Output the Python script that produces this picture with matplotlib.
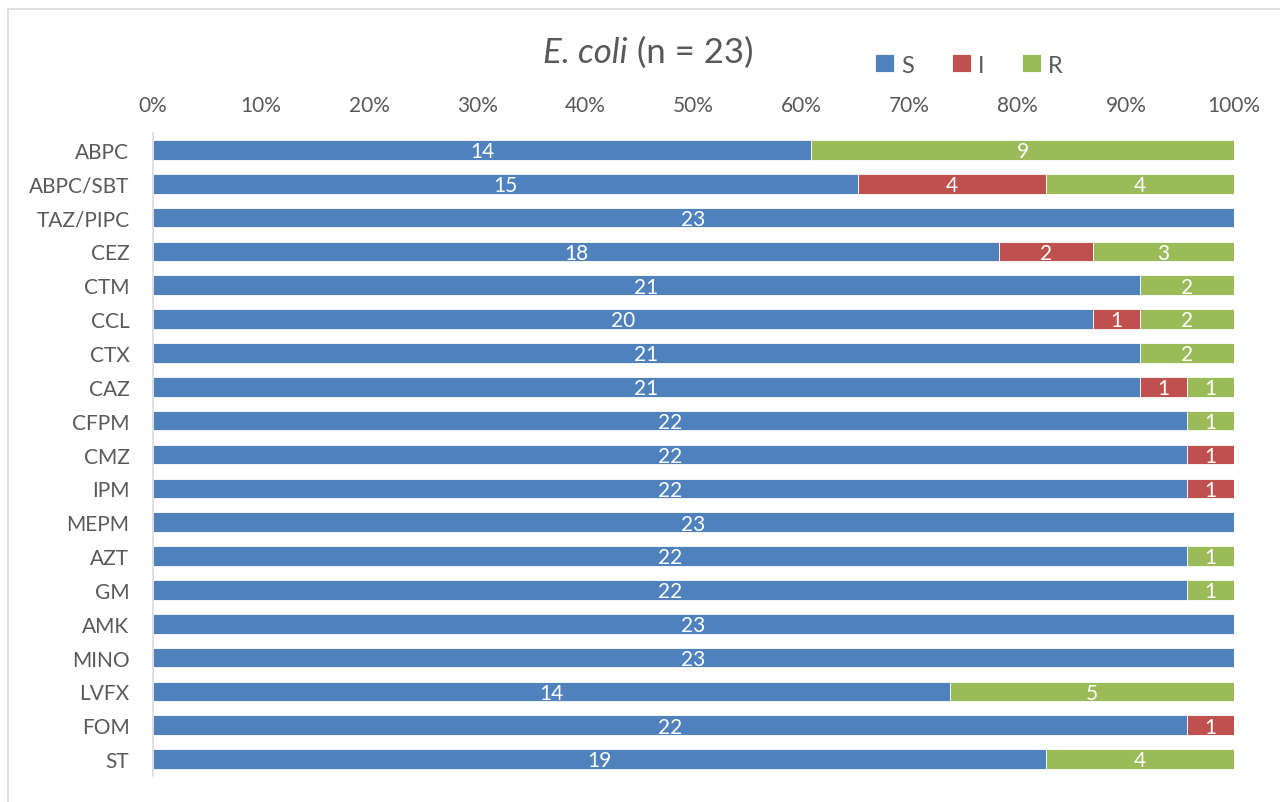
import matplotlib
matplotlib.use("Agg")
import matplotlib.pyplot as plt
import numpy as np
from matplotlib.patches import Rectangle
from matplotlib.ticker import PercentFormatter

categories = ["ABPC", "ABPC/SBT", "TAZ/PIPC", "CEZ", "CTM", "CCL", "CTX", "CAZ",
              "CFPM", "CMZ", "IPM", "MEPM", "AZT", "GM", "AMK", "MINO", "LVFX",
              "FOM", "ST"]
S_vals = [14, 15, 23, 18, 21, 20, 21, 21, 22, 22, 22, 23, 22, 22, 23, 23, 14, 22, 19]
I_vals = [0, 4, 0, 2, 0, 1, 0, 1, 0, 1, 1, 0, 0, 0, 0, 0, 0, 1, 0]
R_vals = [9, 4, 0, 3, 2, 2, 2, 1, 1, 0, 0, 0, 1, 1, 0, 0, 5, 0, 4]
series_names = ["S", "I", "R"]
colors = ["#4F81BD", "#C0504D", "#9BBB59"]

plt.rcParams['font.family'] = ['Lato', 'DejaVu Sans']
txt_color = "#595959"

W, H = 1280, 803
fig = plt.figure(figsize=(W / 100, H / 100), dpi=100)
ax = fig.add_axes([153 / W, 1 - 777 / H, (1234 - 153) / W, (777 - 134) / H])

counts = np.array([S_vals, I_vals, R_vals], dtype=float)
totals = counts.sum(axis=0)
pct = counts / totals * 100
y = np.arange(len(categories))
left = np.zeros(len(categories))
handles = []
for k in range(3):
    bars = ax.barh(y, pct[k], left=left, height=0.58, color=colors[k],
                   edgecolor="white", linewidth=0.6, label=series_names[k])
    handles.append(bars)
    for i in range(len(categories)):
        if counts[k, i] > 0:
            ax.text(left[i] + pct[k, i] / 2, y[i] + 0.04, f"{int(counts[k, i])}",
                    ha="center", va="center", color="white", fontsize=15)
    left = left + pct[k]

ax.set_xlim(0, 100)
ax.set_ylim(len(categories) - 0.5, -0.5)
ax.set_yticks(y)
ax.set_yticklabels(categories)
ax.set_xticks(np.arange(0, 101, 10))
ax.xaxis.set_major_formatter(PercentFormatter(decimals=0))
ax.xaxis.tick_top()
ax.tick_params(axis="x", length=0, pad=13, labelsize=15, labelcolor=txt_color)
ax.tick_params(axis="y", length=0, pad=17, labelsize=15, labelcolor=txt_color)
for s in ["top", "right", "bottom"]:
    ax.spines[s].set_visible(False)
ax.spines["left"].set_color("#D9D9D9")
ax.spines["left"].set_linewidth(1.2)

# figure border
fig.patches.append(Rectangle((8 / W, -0.05), 1.2, 1 - 10 / H + 0.05,
                             transform=fig.transFigure, fill=False,
                             edgecolor="#D9D9D9", linewidth=1.2))

# title
t1 = fig.text(543 / W, 1 - 63 / H, "E. coli", fontsize=25, style="italic",
              color=txt_color, ha="left", va="baseline")
fig.canvas.draw()
ax.annotate(" (n = 23)", xy=(1, 0), xycoords=t1, fontsize=25, color=txt_color,
            ha="left", va="bottom")

leg = fig.legend(handles=handles, labels=series_names, ncol=3, frameon=False,
                 loc="center left", bbox_to_anchor=(875 / W, 1 - 66 / H),
                 bbox_transform=fig.transFigure, fontsize=17, handlelength=0.8,
                 handleheight=0.8, handletextpad=0.3, columnspacing=1.6,
                 borderpad=0, borderaxespad=0)
for t in leg.get_texts():
    t.set_color(txt_color)

fig.savefig("out.png", dpi=100, facecolor="white")
